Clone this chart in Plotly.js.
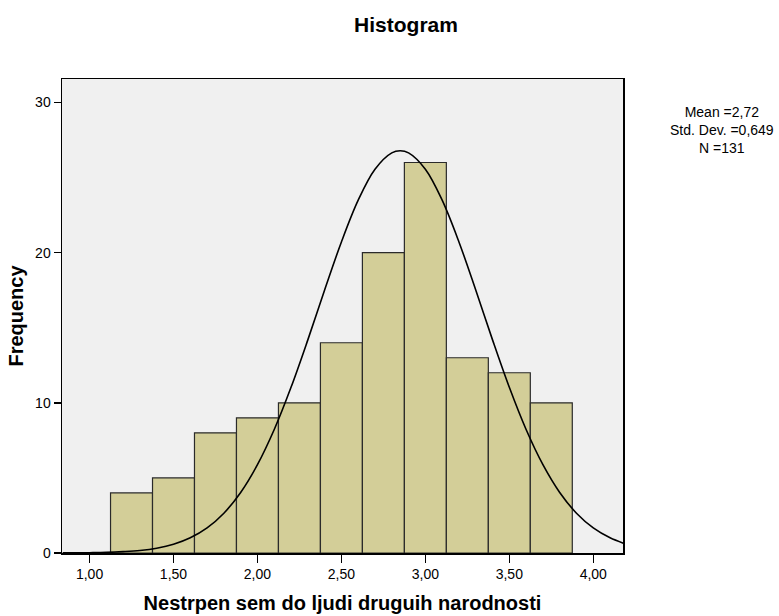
<!DOCTYPE html>
<html>
<head>
<meta charset="utf-8">
<script src="https://cdn.plot.ly/plotly-3.0.1.min.js"></script>
<style>html,body{margin:0;padding:0;background:#fff;}#chart{width:779px;height:616px;}</style>
</head>
<body>
<div id="chart"></div>
<script>
// Histogram bins (centers) and frequencies
const binCenters = [1.25, 1.50, 1.75, 2.00, 2.25, 2.50, 2.75, 3.00, 3.25, 3.50, 3.75];
const frequencies = [4, 5, 8, 9, 10, 14, 20, 26, 13, 12, 10];
const binWidth = 0.25;

// Normal curve points
const curveX = [0.84, 0.9, 1.0, 1.1, 1.2, 1.3, 1.4, 1.5, 1.6, 1.7, 1.8, 1.9, 2.0, 2.1, 2.2, 2.3, 2.4, 2.5, 2.6, 2.7, 2.8, 2.85, 2.9, 3.0, 3.1, 3.2, 3.3, 3.4, 3.5, 3.6, 3.7, 3.8, 3.9, 4.0, 4.1, 4.18];
const curveY = [0.01, 0.01, 0.02, 0.04, 0.09, 0.17, 0.32, 0.58, 1.01, 1.67, 2.65, 4.03, 5.88, 8.22, 11.03, 14.19, 17.51, 20.71, 23.49, 25.55, 26.64, 26.78, 26.64, 25.55, 23.49, 20.71, 17.51, 14.19, 11.03, 8.22, 5.88, 4.03, 2.65, 1.67, 1.01, 0.65];

// Axis ticks
const xTicks = [1.0, 1.5, 2.0, 2.5, 3.0, 3.5, 4.0];
const yTicks = [0, 10, 20, 30];

const statsLines = ["Mean =2,72", "Std. Dev. =0,649", "N =131"];

const FONT = "Liberation Sans, Arial, Helvetica, sans-serif";

const traces = [
  {
    type: "bar",
    x: binCenters,
    y: frequencies,
    width: binCenters.map(() => binWidth),
    marker: { color: "#D3CE98", line: { color: "#2a2a2a", width: 1.2 } },
    hoverinfo: "x+y",
    showlegend: false
  },
  {
    type: "scatter",
    mode: "lines",
    x: curveX,
    y: curveY,
    line: { color: "#000", width: 1.6, shape: "spline", smoothing: 1 },
    showlegend: false
  }
];

const layout = {
  width: 779,
  height: 616,
  margin: { l: 62, r: 156, t: 79, b: 63 },
  paper_bgcolor: "#ffffff",
  plot_bgcolor: "#F0F0F0",
  separators: ",.",
  bargap: 0,
  font: { family: FONT, color: "#000" },
  title: {
    text: "<b>Histogram</b>",
    font: { family: FONT, size: 21, color: "#000" },
    x: 406 / 779, xref: "container", xanchor: "center",
    y: 1 - 25 / 616, yref: "container", yanchor: "middle"
  },
  xaxis: {
    range: [0.836, 4.177],
    tickvals: xTicks,
    tickformat: ".2f",
    ticks: "outside",
    ticklen: 8,
    tickwidth: 1.5,
    tickcolor: "#000",
    showgrid: false,
    zeroline: false,
    showline: true,
    linecolor: "#000",
    linewidth: 1.5,
    mirror: true,
    tickfont: { family: FONT, size: 14, color: "#000" },
    title: {
      text: "<b>Nestrpen sem do ljudi druguih narodnosti</b>",
      font: { family: FONT, size: 20, color: "#000" },
      standoff: 14
    }
  },
  yaxis: {
    range: [0, 31.56],
    tickvals: yTicks,
    ticks: "outside",
    ticklen: 7,
    tickwidth: 1.5,
    tickcolor: "#000",
    showgrid: false,
    zeroline: false,
    showline: true,
    linecolor: "#000",
    linewidth: 1.5,
    mirror: true,
    tickfont: { family: FONT, size: 14, color: "#000" },
    title: {
      text: "<b>Frequency</b>",
      font: { family: FONT, size: 20, color: "#000" },
      standoff: 6
    }
  },
  annotations: [
    {
      text: statsLines.join("<br>"),
      xref: "paper", yref: "paper",
      x: (722 - 62) / 561, y: (616 - 63 - 130) / (616 - 79 - 63),
      xanchor: "center", yanchor: "middle",
      showarrow: false,
      align: "center",
      font: { family: FONT, size: 14, color: "#000" }
    }
  ]
};

Plotly.newPlot("chart", traces, layout, { displayModeBar: false, staticPlot: true });
</script>
</body>
</html>
